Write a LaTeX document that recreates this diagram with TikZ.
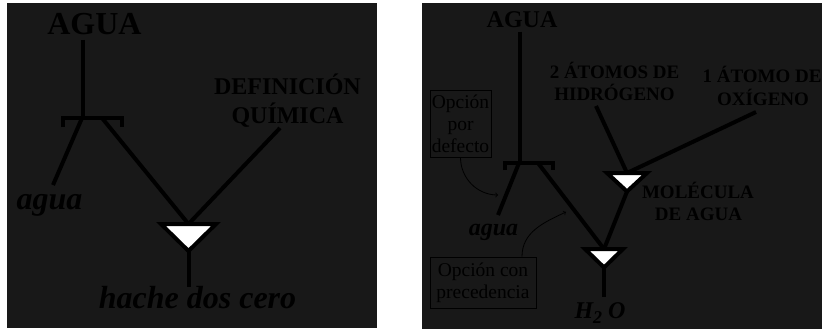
\documentclass[tikz,border=0pt]{standalone}
\usepackage{fontspec}
\setmainfont{Liberation Serif}
\usepackage{tikz}

\definecolor{panel}{HTML}{181818}

\tikzset{
  lbl/.style={inner sep=0, anchor=base, text=black},
  labbig/.style={lbl, font=\fontsize{32}{36}\selectfont\bfseries},
  labbigit/.style={lbl, font=\fontsize{32}{36}\selectfont\bfseries\itshape},
  labmid/.style={lbl, font=\fontsize{24}{27}\selectfont\bfseries},
  labmidit/.style={lbl, font=\fontsize{24}{27}\selectfont\bfseries\itshape},
  labsmall/.style={lbl, font=\fontsize{19}{22}\selectfont\bfseries},
  notebox/.style={draw=black, line width=0.8, text=black, inner sep=1, align=center, font=\fontsize{19.5}{22}\selectfont},
  joint/.style={draw=black, fill=white, line width=4},
  wire/.style={line width=4, draw=black},
}

\begin{document}
\begin{tikzpicture}[x=1pt, y=1pt]

\useasboundingbox (0,0) rectangle (822,-329);
\fill[white] (0,0) rectangle (822,-329);

% panels %
\fill[panel] (7,-3) rectangle (377,-328);
\fill[panel] (422,-3) rectangle (822,-329);

% left panel %
\node[labbig] (aguaL) at (94.5,-35) {AGUA};
\node[labmid] (defL) at (287.5,-95) {DEFINICIÓN};
\node[labmid] (quimL) at (287.5,-123) {QUÍMICA};
\node[labbigit] (aguaLit) at (49.5,-209) {agua};
\node[labbigit] (hache) at (197.5,-308) {hache dos cero};

\coordinate (aguaLend) at (83,-40);
\coordinate (barL) at (83,-118);
\coordinate (legLa) at (82,-118);
\coordinate (legLb) at (102,-118);
\coordinate (aguaLitend) at (53,-185);
\coordinate (quimLend) at (280,-128);
\coordinate (hacheend) at (188.5,-287);
\coordinate (triL) at (188.5,-224);
\coordinate (triLapex) at (188.5,-251);

\draw[wire] (aguaLend) -- (barL);
\draw[wire] (63,-127) -- (63,-118) -- (122,-118) -- (122,-127);
\draw[wire] (legLa) -- (aguaLitend);
\draw[wire] (legLb) -- (triL);
\draw[wire] (quimLend) -- (triL);
\draw[wire] (triLapex) -- (hacheend);
\filldraw[joint] (161,-224) -- (216,-224) -- (triLapex) -- cycle;

% right panel %
\node[labmid] (aguaR) at (522,-28) {AGUA};
\node[labmidit] (aguaRit) at (493.5,-235) {agua};
\node[labmidit] (h2o) at (600,-318) {H{\fontsize{18}{18}\selectfont\raisebox{-5pt}{2}} O};
\node[labsmall] (dosat) at (614.5,-78) {2 ÁTOMOS DE};
\node[labsmall] (hidro) at (614.5,-100) {HIDRÓGENO};
\node[labsmall] (unat) at (762,-83) {1 ÁTOMO DE};
\node[labsmall] (oxi) at (763,-105) {OXÍGENO};
\node[labsmall] (mol) at (698,-198) {MOLÉCULA};
\node[labsmall] (deag) at (698.5,-220) {DE AGUA};

\node[notebox, minimum width=61, minimum height=67] (defecto) at (460.5,-123.5) {Opción\\por\\defecto};
\node[notebox, minimum width=106, minimum height=51] (preced) at (483,-282.5) {Opción con\\precedencia};

\coordinate (aguaRend) at (520,-32);
\coordinate (barR) at (520,-163);
\coordinate (legRa) at (519,-163);
\coordinate (legRb) at (538,-163);
\coordinate (aguaRitend) at (498,-215);
\coordinate (hidroend) at (596,-106);
\coordinate (oxiend) at (756,-112);
\coordinate (h2oend) at (604,-297);
\coordinate (tipdef) at (498,-195);
\coordinate (tippre) at (566,-212);
\coordinate (triR1) at (627,-173);
\coordinate (triR1apex) at (627,-191.5);
\coordinate (triR2) at (604,-249);
\coordinate (triR2apex) at (604,-267.5);

\draw[wire] (aguaRend) -- (barR);
\draw[wire] (505,-170) -- (505,-163) -- (553,-163) -- (553,-170);
\draw[wire] (legRa) -- (aguaRitend);
\draw[wire] (legRb) -- (triR2);
\draw[wire] (hidroend) -- (triR1);
\draw[wire] (oxiend) -- (triR1);
\draw[wire] (triR1apex) -- (triR2);
\draw[wire] (triR2apex) -- (h2oend);
\filldraw[joint] (607,-173) -- (647,-173) -- (triR1apex) -- cycle;
\filldraw[joint] (585,-249) -- (623,-249) -- (triR2apex) -- cycle;

% notes %
\draw[->, line width=0.8] (defecto.south) to[out=-90, in=180] (tipdef);
\draw[->, line width=0.8] ([xshift=39]preced.north) to[out=90, in=205] (tippre);

\end{tikzpicture}
\end{document}
